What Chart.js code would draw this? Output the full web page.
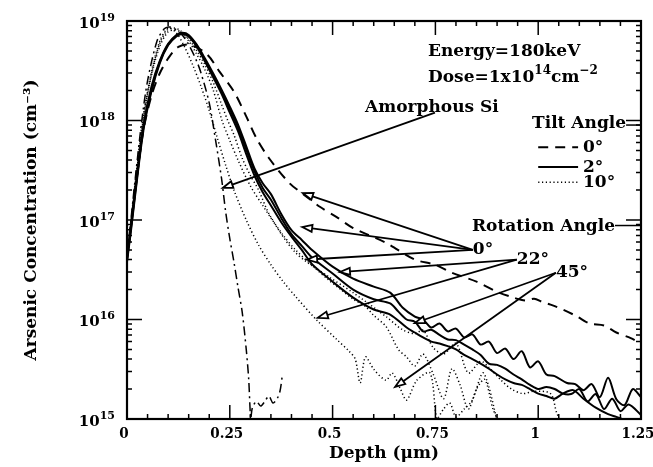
<!DOCTYPE html>
<html>
<head>
<meta charset="utf-8">
<script src="https://cdn.jsdelivr.net/npm/chart.js@4.4.1/dist/chart.umd.min.js"></script>
<style>
  body { margin: 0; background: #fff; }
  canvas { display: block; }
</style>
</head>
<body>
<canvas id="profileChart" width="653" height="467"></canvas>
<script>
// Depth (um) and arsenic concentration (cm^-3)
const amorphousDepth = [0, 0.01, 0.02, 0.036, 0.05, 0.073, 0.09, 0.1, 0.11, 0.13, 0.15, 0.17, 0.18, 0.2, 0.215, 0.23, 0.24, 0.25, 0.26, 0.27, 0.28, 0.29, 0.296, 0.301, 0.305, 0.315, 0.325, 0.335, 0.345, 0.355, 0.365, 0.372, 0.378];
const amorphousConc = [4.5e16, 1.05e17, 2.6e17, 1.0e18, 2.5e18, 6.3e18, 8.3e18, 8.7e18, 8.6e18, 7.6e18, 5.8e18, 3.9e18, 3.0e18, 1.5e18, 6.5e17, 2.6e17, 1.2e17, 6.5e16, 3.8e16, 2.1e16, 1.2e16, 5.0e15, 2.5e15, 1.0e15, 1.3e15, 1.5e15, 1.35e15, 1.5e15, 1.7e15, 1.45e15, 1.6e15, 1.9e15, 2.8e15];

const tilt0Depth = [0, 0.02, 0.04, 0.06, 0.08, 0.1, 0.125, 0.155, 0.195, 0.225, 0.26, 0.29, 0.315, 0.345, 0.395, 0.43, 0.47, 0.51, 0.55, 0.63, 0.7, 0.75, 0.79, 0.85, 0.9, 0.94, 0.97, 0.99, 1.01, 1.03, 1.06, 1.095, 1.125, 1.16, 1.19, 1.225, 1.25];
const tilt0Conc = [4e16, 2e17, 8e17, 1.8e18, 3e18, 4.2e18, 5.5e18, 5.75e18, 4.6e18, 3.1e18, 1.95e18, 1.1e18, 6.6e17, 4.2e17, 2.35e17, 1.8e17, 1.35e17, 1.07e17, 8.3e16, 5.9e16, 4e16, 3.55e16, 2.95e16, 2.4e16, 1.9e16, 1.66e16, 1.55e16, 1.62e16, 1.5e16, 1.41e16, 1.26e16, 1.07e16, 9.1e15, 8.7e15, 7.4e15, 6.5e15, 5.75e15];

const tilt2aDepth = [0, 0.01, 0.02, 0.04, 0.06, 0.08, 0.1, 0.12, 0.135, 0.15, 0.17, 0.19, 0.21, 0.23, 0.25, 0.27, 0.29, 0.31, 0.33, 0.35, 0.375, 0.4, 0.425, 0.45, 0.5, 0.55, 0.6, 0.64, 0.67, 0.7, 0.72, 0.74, 0.76, 0.78, 0.8, 0.82, 0.84, 0.86, 0.88, 0.9, 0.92, 0.94, 0.96, 0.98, 1.0, 1.02, 1.04, 1.07, 1.09, 1.11, 1.13, 1.15, 1.17, 1.19, 1.21, 1.23, 1.25];
const tilt2aConc = [4.2e16, 8.9e16, 2.0e17, 8.9e17, 2.24e18, 4.0e18, 5.9e18, 7.24e18, 7.6e18, 7.24e18, 5.75e18, 4.17e18, 2.95e18, 2.04e18, 1.38e18, 9.1e17, 5.5e17, 3.3e17, 2.34e17, 1.82e17, 1.15e17, 7.9e16, 6.3e16, 5.0e16, 3.4e16, 2.57e16, 2.14e16, 1.86e16, 1.32e16, 1.07e16, 1.0e16, 8.3e15, 9.1e15, 7.6e15, 8.1e15, 6.6e15, 7.1e15, 5.6e15, 6.0e15, 4.6e15, 5.1e15, 4.0e15, 4.8e15, 3.3e15, 3.8e15, 2.8e15, 2.7e15, 2.3e15, 2.24e15, 1.95e15, 2.24e15, 1.66e15, 2.6e15, 1.58e15, 1.38e15, 2.0e15, 1.66e15];

const tilt2bDepth = [0, 0.01, 0.02, 0.04, 0.06, 0.08, 0.1, 0.12, 0.135, 0.15, 0.17, 0.19, 0.21, 0.23, 0.25, 0.27, 0.29, 0.31, 0.33, 0.35, 0.375, 0.4, 0.425, 0.45, 0.5, 0.55, 0.6, 0.64, 0.66, 0.68, 0.7, 0.72, 0.74, 0.76, 0.78, 0.8, 0.82, 0.84, 0.86, 0.88, 0.9, 0.92, 0.94, 0.96, 0.98, 1.0, 1.02, 1.04, 1.06, 1.08, 1.1, 1.12, 1.14, 1.16, 1.18, 1.2, 1.22, 1.25];
const tilt2bConc = [4.0e16, 8.5e16, 1.9e17, 8.5e17, 2.1e18, 3.9e18, 5.8e18, 7.1e18, 7.5e18, 7.1e18, 5.6e18, 4.0e18, 2.8e18, 1.95e18, 1.3e18, 8.5e17, 5.1e17, 3.1e17, 2.1e17, 1.6e17, 1.05e17, 7.2e16, 5.5e16, 4.2e16, 2.9e16, 2.0e16, 1.6e16, 1.45e16, 1.2e16, 1.0e16, 9.5e15, 7.6e15, 7.9e15, 7.0e15, 6.3e15, 6.2e15, 5.6e15, 5.0e15, 4.4e15, 3.6e15, 3.5e15, 3.2e15, 2.8e15, 2.5e15, 2.2e15, 2.0e15, 2.1e15, 2.0e15, 1.8e15, 1.78e15, 2.0e15, 1.5e15, 1.78e15, 1.26e15, 1.6e15, 1.2e15, 1.4e15, 1.1e15];

const tilt2cDepth = [0, 0.01, 0.02, 0.04, 0.06, 0.08, 0.1, 0.12, 0.135, 0.15, 0.17, 0.19, 0.21, 0.23, 0.25, 0.27, 0.29, 0.31, 0.33, 0.35, 0.375, 0.4, 0.425, 0.45, 0.5, 0.55, 0.6, 0.64, 0.68, 0.7, 0.72, 0.74, 0.76, 0.78, 0.8, 0.82, 0.84, 0.86, 0.88, 0.9, 0.92, 0.94, 0.96, 0.98, 1.0, 1.02, 1.04, 1.06, 1.085, 1.11, 1.14, 1.17, 1.19, 1.21];
const tilt2cConc = [3.8e16, 8.0e16, 1.8e17, 8.0e17, 2.0e18, 3.8e18, 5.7e18, 7.0e18, 7.4e18, 7.0e18, 5.5e18, 3.9e18, 2.7e18, 1.85e18, 1.2e18, 7.8e17, 4.6e17, 2.8e17, 1.9e17, 1.4e17, 9.5e16, 6.8e16, 5.0e16, 3.6e16, 2.4e16, 1.66e16, 1.26e16, 1.12e16, 8.3e15, 7.4e15, 6.6e15, 6.0e15, 5.75e15, 5.4e15, 5.0e15, 4.4e15, 4.0e15, 3.6e15, 3.2e15, 2.8e15, 2.5e15, 2.3e15, 2.2e15, 2.0e15, 1.8e15, 1.7e15, 1.6e15, 1.8e15, 1.95e15, 1.6e15, 1.3e15, 1.12e15, 1.05e15, 0.98e15];

const tilt10aDepth = [0, 0.01, 0.02, 0.04, 0.06, 0.08, 0.1, 0.12, 0.14, 0.16, 0.18, 0.2, 0.22, 0.24, 0.26, 0.29, 0.32, 0.35, 0.38, 0.41, 0.46, 0.51, 0.54, 0.555, 0.567, 0.58, 0.6, 0.63, 0.645, 0.665, 0.68, 0.705, 0.737, 0.754, 0.77, 0.785, 0.8, 0.82, 0.84, 0.865, 0.88, 0.9];
const tilt10aConc = [4e16, 9.5e16, 2.4e17, 1.12e18, 3.16e18, 6.3e18, 8.5e18, 7.6e18, 5.5e18, 3.6e18, 2.2e18, 1.26e18, 6.6e17, 3.55e17, 2.0e17, 1.0e17, 5.6e16, 3.55e16, 2.4e16, 1.7e16, 1.0e16, 6.3e15, 4.8e15, 4.0e15, 2.3e15, 4.2e15, 3.16e15, 2.45e15, 2.9e15, 2.0e15, 1.55e15, 2.45e15, 2.9e15, 1.0e15, 1.26e15, 1.45e15, 1.05e15, 1.26e15, 1.55e15, 2.9e15, 2.1e15, 0.95e15];

const tilt10bDepth = [0, 0.01, 0.02, 0.04, 0.06, 0.08, 0.1, 0.115, 0.13, 0.15, 0.17, 0.19, 0.21, 0.231, 0.25, 0.27, 0.3, 0.33, 0.35, 0.38, 0.41, 0.45, 0.49, 0.52, 0.55, 0.58, 0.6, 0.63, 0.66, 0.68, 0.7, 0.72, 0.745, 0.77, 0.79, 0.81, 0.83, 0.85, 0.87, 0.89, 0.905];
const tilt10bConc = [4.2e16, 9.8e16, 2.3e17, 1.05e18, 3.0e18, 6.0e18, 8.3e18, 8.5e18, 8.0e18, 6.3e18, 4.6e18, 3.2e18, 2.0e18, 1.0e18, 6.3e17, 4.0e17, 2.2e17, 1.4e17, 1.05e17, 7.0e16, 5.0e16, 3.5e16, 2.5e16, 2.0e16, 1.6e16, 1.35e16, 1.1e16, 8.5e15, 5.0e15, 4.2e15, 3.4e15, 4.5e15, 2.8e15, 1.6e15, 3.2e15, 2.2e15, 1.26e15, 2.0e15, 2.5e15, 1.26e15, 0.95e15];

const tilt10cDepth = [0, 0.01, 0.02, 0.04, 0.06, 0.08, 0.1, 0.115, 0.13, 0.15, 0.17, 0.19, 0.21, 0.23, 0.245, 0.26, 0.28, 0.3, 0.32, 0.348, 0.41, 0.49, 0.55, 0.63, 0.67, 0.7, 0.72, 0.745, 0.77, 0.8, 0.83, 0.86, 0.88, 0.91, 0.935, 0.963, 0.99, 1.03, 1.045, 1.055];
const tilt10cConc = [4.4e16, 1.0e17, 2.4e17, 1.1e18, 2.9e18, 5.6e18, 7.8e18, 8.1e18, 7.8e18, 6.6e18, 5.0e18, 3.6e18, 2.4e18, 1.45e18, 1.0e18, 7.2e17, 4.2e17, 2.8e17, 2.0e17, 1.1e17, 4.7e16, 2.7e16, 1.86e16, 1.07e16, 7.9e15, 7.2e15, 7.8e15, 5.2e15, 4.5e15, 5.75e15, 2.9e15, 3.8e15, 3.3e15, 2.45e15, 2.0e15, 1.8e15, 1.9e15, 1.8e15, 1.15e15, 0.95e15];

const depthTicks = [0, 0.25, 0.5, 0.75, 1, 1.25];
const depthTickLabels = ['0', '0.25', '0.5', '0.75', '1', '1.25'];
const concDecades = [15, 16, 17, 18, 19];

// annotation anchors in data units: [depth, concentration]
const amorphousArrow = { from: [0.749, 1.2e18], to: [[0.233, 2.1e17]] };
const rotationArrows = [
    { label: '0°', at: [0.841, 5.0e16], to: [[0.428, 1.86e17], [0.426, 8.5e16], [0.438, 4.0e16]] },
    { label: '22°', at: [0.948, 4.0e16], to: [[0.518, 3.0e16], [0.464, 1.04e16]] },
    { label: '45°', at: [1.043, 2.95e16], to: [[0.70, 9.2e15], [0.652, 2.1e15]] },
];

const serif = "'DejaVu Serif', serif";
const narrowSerif = "'DejaVu Serif Condensed', 'DejaVu Serif', serif";

const dashDot = [9, 4, 2, 4];
const dashed = [10, 7];
const dotted = [1.2, 2.6];

function series(depth, conc, dash, width) {
    return {
        data: depth.map((d, i) => ({ x: d, y: conc[i] })),
        borderColor: '#000',
        borderWidth: width,
        borderDash: dash,
        pointRadius: 0,
        tension: 0.3,
        fill: false,
    };
}

// text with raised parts, returns the x where it ends
function drawRich(ctx, parts, x, y, size, family = serif) {
    let cx = x;
    parts.forEach(([t, raised]) => {
        ctx.font = `bold ${raised ? Math.round(size * 0.7) : size}px ${family}`;
        ctx.fillText(t, cx, raised ? y - size * 0.42 : y);
        cx += ctx.measureText(t).width;
    });
    return cx;
}

function richWidth(ctx, parts, size, family = serif) {
    return parts.reduce((w, [t, raised]) => {
        ctx.font = `bold ${raised ? Math.round(size * 0.7) : size}px ${family}`;
        return w + ctx.measureText(t).width;
    }, 0);
}

function arrow(ctx, x0, y0, x1, y1) {
    const ang = Math.atan2(y1 - y0, x1 - x0);
    const len = 10, half = 3.5;
    const bx = x1 - len * Math.cos(ang), by = y1 - len * Math.sin(ang);
    ctx.beginPath();
    ctx.moveTo(x0, y0);
    ctx.lineTo(bx, by);
    ctx.stroke();
    ctx.beginPath();
    ctx.moveTo(x1, y1);
    ctx.lineTo(bx + half * Math.sin(ang), by - half * Math.cos(ang));
    ctx.lineTo(bx - half * Math.sin(ang), by + half * Math.cos(ang));
    ctx.closePath();
    ctx.fillStyle = '#fff';
    ctx.fill();
    ctx.stroke();
    ctx.fillStyle = '#000';
}

// frame, inward ticks, decade labels, legend and arrows
const decorations = {
    id: 'decorations',
    afterDraw(chart) {
        const { ctx, chartArea: a, scales: { x, y } } = chart;
        const px = v => x.getPixelForValue(v);
        const py = v => y.getPixelForValue(v);
        ctx.save();
        ctx.strokeStyle = '#000';
        ctx.fillStyle = '#000';

        ctx.lineWidth = 1.5;
        ctx.beginPath();
        for (let i = 0; i <= 25; i++) {
            const xx = px(i * 0.05);
            const len = i % 5 === 0 ? 14 : 5;
            ctx.moveTo(xx, a.bottom); ctx.lineTo(xx, a.bottom - len);
            ctx.moveTo(xx, a.top); ctx.lineTo(xx, a.top + len);
        }
        concDecades.forEach(e => {
            for (let m = 1; m <= 9; m++) {
                if (e === 19 && m > 1) break;
                const yy = py(m * Math.pow(10, e));
                const len = m === 1 ? 15 : 5;
                ctx.moveTo(a.left, yy); ctx.lineTo(a.left + len, yy);
                ctx.moveTo(a.right, yy); ctx.lineTo(a.right - len, yy);
            }
        });
        ctx.stroke();
        ctx.lineWidth = 2.2;
        ctx.strokeRect(a.left, a.top, a.right - a.left, a.bottom - a.top);

        ctx.textBaseline = 'middle';
        ctx.textAlign = 'left';

        // decade labels 10^n
        concDecades.forEach(e => {
            const parts = [['10'], [String(e), true]];
            const w = richWidth(ctx, parts, 15);
            drawRich(ctx, parts, a.left - 12 - w, py(Math.pow(10, e)) + 3, 15);
        });

        drawRich(ctx, [['Energy=180keV']], px(0.732), py(4.9e18), 17);
        drawRich(ctx, [['Dose=1x10'], ['14', true], ['cm'], ['−2', true]], px(0.732), py(2.7e18), 17);
        drawRich(ctx, [['Amorphous Si']], px(0.579), py(1.36e18), 17);

        ctx.lineWidth = 1.5;
        const tiltEnd = drawRich(ctx, [['Tilt Angle']], px(0.985), py(9.4e17), 17);
        ctx.beginPath();
        ctx.moveTo(tiltEnd, py(9.0e17)); ctx.lineTo(a.right, py(9.0e17));
        ctx.stroke();
        const rotEnd = drawRich(ctx, [['Rotation Angle']], px(0.839), py(8.5e16), 17);
        ctx.beginPath();
        ctx.moveTo(rotEnd, py(8.8e16)); ctx.lineTo(a.right, py(8.8e16));
        ctx.stroke();

        const legendRows = [
            ['0°', dashed, 2, 5.4e17],
            ['2°', [], 2, 3.4e17],
            ['10°', dotted, 1.5, 2.4e17],
        ];
        legendRows.forEach(([label, dash, w, c]) => {
            ctx.setLineDash(dash);
            ctx.lineWidth = w;
            ctx.beginPath();
            ctx.moveTo(px(1.0), py(c)); ctx.lineTo(px(1.097), py(c));
            ctx.stroke();
            ctx.setLineDash([]);
            drawRich(ctx, [[label]], px(1.109), py(c), 17);
        });

        ctx.lineWidth = 1.8;
        amorphousArrow.to.forEach(t => arrow(ctx, px(amorphousArrow.from[0]), py(amorphousArrow.from[1]), px(t[0]), py(t[1])));
        rotationArrows.forEach(r => {
            const ax = px(r.at[0]), ay = py(r.at[1]);
            r.to.forEach(t => arrow(ctx, ax, ay, px(t[0]), py(t[1])));
            drawRich(ctx, [[r.label]], ax, ay, 17);
        });
        ctx.restore();
    }
};

const ctx = document.getElementById('profileChart').getContext('2d');
new Chart(ctx, {
    type: 'line',
    data: {
        datasets: [
            series(tilt0Depth, tilt0Conc, dashed, 2),
            series(tilt2aDepth, tilt2aConc, [], 2),
            series(tilt2bDepth, tilt2bConc, [], 2),
            series(tilt2cDepth, tilt2cConc, [], 2),
            series(tilt10aDepth, tilt10aConc, dotted, 1.5),
            series(tilt10bDepth, tilt10bConc, dotted, 1.5),
            series(tilt10cDepth, tilt10cConc, dotted, 1.5),
            series(amorphousDepth, amorphousConc, dashDot, 1.5),
        ],
    },
    options: {
        responsive: false,
        animation: false,
        layout: { padding: { top: 21, right: 12, left: 0, bottom: 0 } },
        plugins: { legend: { display: false }, tooltip: { enabled: false } },
        scales: {
            x: {
                type: 'linear',
                min: 0,
                max: 1.25,
                grid: { display: false, drawTicks: false },
                border: { display: false },
                afterBuildTicks: s => { s.ticks = depthTicks.map(v => ({ value: v })); },
                afterFit: s => { s.height = 48; s.paddingLeft = 0; s.paddingRight = 0; },
                ticks: {
                    padding: 6,
                    labelOffset: -3,
                    color: '#000',
                    maxRotation: 0,
                    autoSkip: false,
                    font: { family: narrowSerif, size: 15, weight: 'bold' },
                    callback: (v, i) => depthTickLabels[i],
                },
                title: {
                    display: true,
                    text: 'Depth (μm)',
                    color: '#000',
                    padding: { top: 0, bottom: 3 },
                    font: { family: serif, size: 17, weight: 'bold' },
                },
            },
            y: {
                type: 'logarithmic',
                min: 1e15,
                max: 1e19,
                grid: { display: false, drawTicks: false },
                border: { display: false },
                afterFit: s => { s.width = 127; s.paddingTop = 0; s.paddingBottom = 0; },
                ticks: { display: false },
                title: {
                    display: true,
                    text: 'Arsenic Concentration (cm⁻³)',
                    color: '#000',
                    padding: { top: 21, bottom: 0 },
                    font: { family: serif, size: 17, weight: 'bold' },
                },
            },
        },
    },
    plugins: [decorations],
});
</script>
</body>
</html>
